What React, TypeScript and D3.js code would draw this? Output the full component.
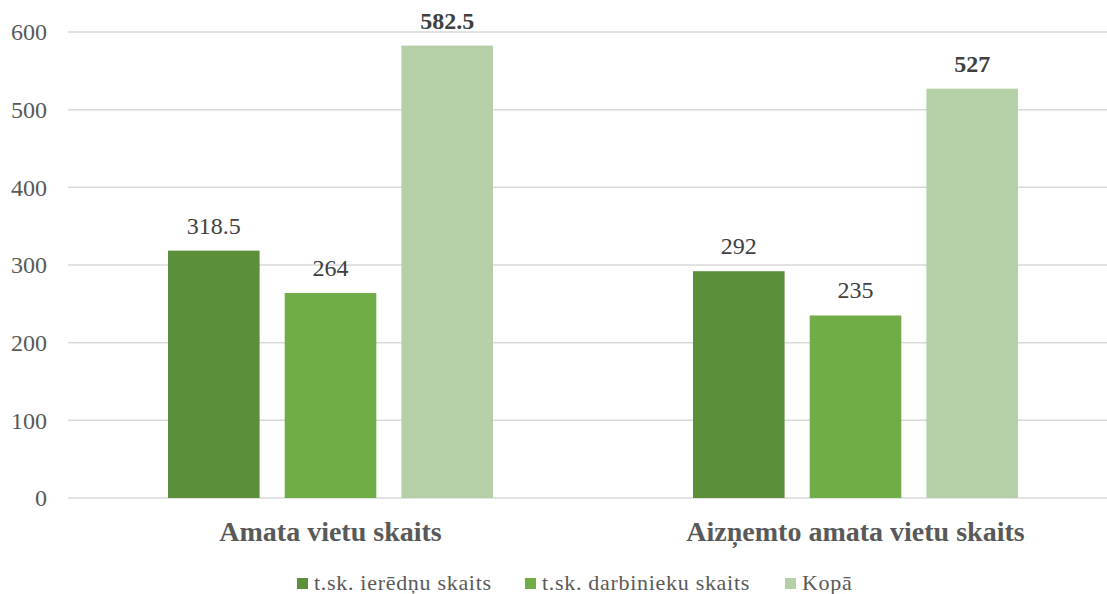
import React from 'react';
import * as d3 from 'd3';

const categories = ['Amata vietu skaits', 'Aizņemto amata vietu skaits'];
const seriesNames = ['t.sk. ierēdņu skaits', 't.sk. darbinieku skaits', 'Kopā'];
const ieredni = [318.5, 292];
const darbinieki = [264, 235];
const kopa = [582.5, 527];
const yTicks = [0, 100, 200, 300, 400, 500, 600];

const colors = ['#5b8f3a', '#70ad47', '#b5cfa7'];
const boldLabel = [false, false, true];

const W = 1107;
const H = 594;
const font = 'Liberation Serif';

const App = () => {
  const series = [ieredni, darbinieki, kopa];

  const x = d3.scaleBand<string>().domain(categories).range([68, 1118]).padding(0);
  const inner = d3
    .scaleBand<number>()
    .domain([0, 1, 2])
    .range([100, 425])
    .paddingInner(0.215)
    .paddingOuter(0);
  const y = d3.scaleLinear().domain([0, 600]).range([498, 32]);

  // legend squares, Excel-style layout
  const legendX = [297, 525, 785];

  return (
    <svg width={W} height={H} style={{ position: 'absolute', left: 0, top: 0, background: '#fff' }}>
      {/* gridlines + y ticks */}
      {yTicks.map(t => (
        <g key={t}>
          <line x1={68} x2={W} y1={y(t)} y2={y(t)} stroke="#d9d9d9" strokeWidth={1.5} />
          <text
            x={47}
            y={y(t)}
            dy="0.35em"
            textAnchor="end"
            fontSize={24}
            fill="#595959"
            style={{ fontFamily: font }}
          >
            {t}
          </text>
        </g>
      ))}

      {/* bars */}
      {categories.map((c, ci) => (
        <g key={c} transform={`translate(${x(c)},0)`}>
          {series.map((s, si) => (
            <g key={si}>
              <rect
                x={inner(si)}
                width={inner.bandwidth()}
                y={y(s[ci])}
                height={y(0) - y(s[ci])}
                fill={colors[si]}
              />
              <text
                x={(inner(si) as number) + inner.bandwidth() / 2}
                y={y(s[ci]) - 17}
                textAnchor="middle"
                fontSize={24}
                fontWeight={boldLabel[si] ? 'bold' : 'normal'}
                fill="#404040"
                style={{ fontFamily: font }}
              >
                {s[ci]}
              </text>
            </g>
          ))}
        </g>
      ))}

      {/* category labels */}
      {categories.map(c => (
        <text
          key={c}
          x={(x(c) as number) + x.bandwidth() / 2}
          y={541}
          textAnchor="middle"
          fontSize={28}
          fontWeight="bold"
          fill="#595959"
          style={{ fontFamily: font }}
        >
          {c}
        </text>
      ))}

      {/* legend */}
      {seriesNames.map((n, i) => (
        <g key={n}>
          <rect x={legendX[i]} y={578} width={11} height={11} fill={colors[i]} />
          <text
            x={legendX[i] + 17}
            y={590}
            fontSize={22}
            letterSpacing={0.7}
            fill="#595959"
            style={{ fontFamily: font }}
          >
            {n}
          </text>
        </g>
      ))}
    </svg>
  );
};

export default App;
